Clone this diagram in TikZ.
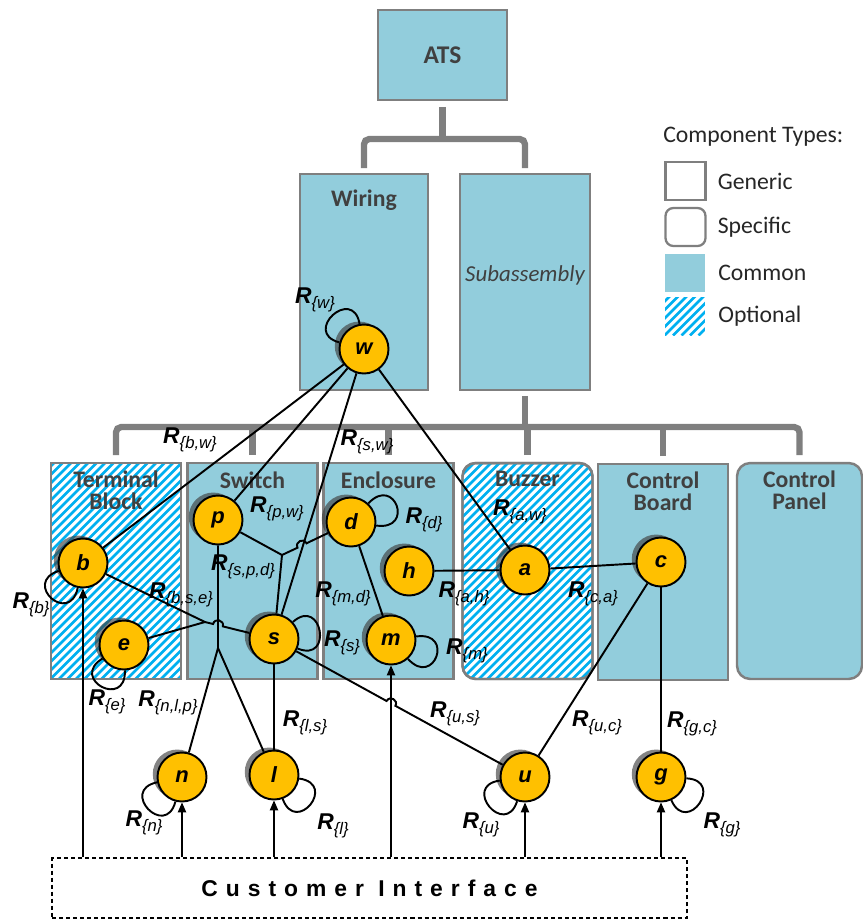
\documentclass[tikz,border=0pt]{standalone}
\usepackage{fontspec}
\setmainfont{Carlito}
\newfontfamily\arialf{Liberation Sans}
\newfontfamily\cifont[LetterSpace=35]{Liberation Sans}
\usetikzlibrary{arrows.meta,positioning,shadows,calc}
\definecolor{commonblue}{RGB}{146,205,220}
\definecolor{stripeblue}{RGB}{0,176,240}
\definecolor{framegray}{RGB}{127,127,127}
\definecolor{nodegold}{RGB}{255,192,0}
\definecolor{labeldark}{RGB}{64,64,64}
\newcommand{\Rsub}[1]{{\bfseries\itshape R}\raisebox{-2.8pt}{\fontsize{9.5}{10}\selectfont\itshape\{#1\}}}
\newcommand{\hatchin}[2]{%
	\begin{scope}
		\clip[rounded corners=#2] (#1.south west) rectangle (#1.north east);
		\foreach \k in {0,...,44}
		\draw[stripe] ($(#1.south west)+(\k*8.5-230,0)$) -- ++(250,250);
	\end{scope}}
\tikzset{
	comp/.style    = {rectangle,draw=framegray,line width=1.4pt,fill=commonblue,
		minimum width=2.6cm,minimum height=4.32cm,inner sep=0pt,outer sep=0pt},
	boxframe/.style= {draw=framegray,line width=1.4pt},
	boxlbl/.style  = {font=\fontsize{13.5}{13}\selectfont\bfseries,text=labeldark,
		align=center,inner sep=0pt},
	vtx/.style     = {circle,draw=black,line width=1.1pt,fill=nodegold,
		minimum size=0.98cm,inner sep=0pt,
		font=\arialf\fontsize{12.5}{14}\selectfont\bfseries\itshape,
		drop shadow={shadow xshift=-2.7pt,shadow yshift=1.7pt,fill=black!75,opacity=0.65}},
	link/.style    = {line width=1.1pt,black},
	rlbl/.style    = {font=\arialf\fontsize{13}{14}\selectfont,inner sep=0pt},
	ciarr/.style   = {line width=0.75pt,-{Triangle[length=5.7pt,width=4.8pt]}},
	cibox/.style   = {rectangle,draw=black,line width=0.75pt,dash pattern=on 2.3pt off 1.7pt,
		minimum width=12.7cm,minimum height=1.2cm,inner sep=0pt,
		font=\cifont\bfseries\fontsize{13}{15}\selectfont},
	busline/.style = {line width=3.6pt,framegray,rounded corners=3pt},
	stripe/.style  = {line width=1.5pt,stripeblue},
	legbox/.style  = {rectangle,draw=framegray,line width=1.3pt,minimum width=0.8cm,
		minimum height=0.76cm,inner sep=0pt,outer sep=0pt},
	legtxt/.style  = {font=\fontsize{13.5}{15}\selectfont,text=black!85,inner sep=0pt,anchor=west},
}
\begin{document}
\begin{tikzpicture}[x=0.02cm,y=0.02cm]
	\useasboundingbox (0,0) rectangle (863,-921);
	
	%% Niveau superieur
	\node[comp,minimum width=2.58cm,minimum height=1.8cm,text=labeldark,
	font=\fontsize{14.5}{15}\selectfont\bfseries] (ats) at (442.5,-55) {ATS};
	\node[comp,minimum width=2.56cm] (wir) at (364,-282) {};
	\node[boxlbl,below=0.3cm of wir.north] (wirl) {Wiring};
	\node[comp] (sub) at (525,-282) {};
	\node[font=\fontsize{13}{15}\selectfont\itshape,text=labeldark] (subl) at (525,-275) {Subassembly};
	
	%% Composants
	\node[comp,fill=white] (tb) at (116,-571) {};
	\hatchin{tb}{0pt}
	\draw[boxframe] (tb.south west) rectangle (tb.north east);
	\node[comp] (sw)  at (252.5,-571) {};
	\node[comp] (enc) at (388.5,-571) {};
	\node[comp,fill=white,rounded corners=7.5pt] (buz) at (527.5,-571) {};
	\hatchin{buz}{7.5pt}
	\draw[boxframe,rounded corners=7.5pt] (buz.south west) rectangle (buz.north east);
	\node[comp] (cb) at (663,-572) {};
	\node[comp,rounded corners=7.5pt,minimum width=2.5cm] (cp) at (799.5,-571) {};
	
	\node[boxlbl,anchor=north,below=0.14cm of tb.north]  (tbl)  {Terminal\\Block};
	\node[boxlbl,anchor=north,below=0.16cm of sw.north]  (swl)  {Switch};
	\node[boxlbl,anchor=north,below=0.16cm of enc.north] (encl) {Enclosure};
	\node[boxlbl,anchor=north,below=0.16cm of buz.north] (buzl) {Buzzer};
	\node[boxlbl,anchor=north,below=0.14cm of cb.north]  (cbl)  {Control\\Board};
	\node[boxlbl,anchor=north,below=0.14cm of cp.north]  (cpl)  {Control\\Panel};
	
	%% Arborescence
	\coordinate (bus1) at (0,-139);
	\coordinate (bus2) at (0,-427);
	\draw[busline] ([yshift=-0.14cm]ats.south) -- (ats.south |- bus1);
	\draw[busline] ([yshift=0.12cm]wir.north) -- (wir.north |- bus1)
	-- (sub.north |- bus1) -- ([yshift=0.12cm]sub.north);
	\draw[busline] ([yshift=-0.12cm]sub.south) -- (sub.south |- bus2);
	\draw[busline] ([yshift=0.16cm]tb.north) -- (tb.north |- bus2)
	-- (cp.north |- bus2) -- ([yshift=0.16cm]cp.north);
	\foreach \bx in {sw,enc,buz,cb} \draw[busline] ([yshift=0.16cm]\bx.north) -- (\bx.north |- bus2);
	
	%% Legende
	\node[legtxt] (legt) at (663,-137) {Component Types:};
	\node[legbox] (lgen) at (685.5,-181) {};
	\node[legbox,rounded corners=4.5pt] (lspec) at (685.5,-227) {};
	\node[legbox,draw=none,fill=commonblue] (lcom) at (685,-273) {};
	\node[legbox,draw=none] (lopt) at (685,-316.5) {};
	\hatchin{lopt}{0pt}
	\node[legtxt,right=0.24cm of lgen]  (lgent)  {Generic};
	\node[legtxt,right=0.24cm of lspec] (lspect) {Specific};
	\node[legtxt,right=0.26cm of lcom]  (lcomt)  {Common};
	\node[legtxt,right=0.26cm of lopt]  (loptt)  {Optional};
	
	%% Sommets
	\node[vtx] (w) at (364,-349) {w};
	\node[vtx] (b) at (83,-563)  {b};
	\node[vtx] (e) at (124,-645) {e};
	\node[vtx] (p) at (218,-520) {p};
	\node[vtx] (s) at (274,-639) {s};
	\node[vtx] (d) at (351,-522) {d};
	\node[vtx] (h) at (409,-571) {h};
	\node[vtx] (m) at (391,-640) {m};
	\node[vtx] (a) at (525,-570) {a};
	\node[vtx] (c) at (661,-562) {c};
	\node[vtx] (n) at (182,-777) {n};
	\node[vtx] (l) at (274,-775) {l};
	\node[vtx] (u) at (525,-777) {u};
	\node[vtx] (g) at (661,-777) {g};
	
	%% Interface client
	\node[cibox] (ci) at (369.5,-888) {Customer Interface};
	\foreach \v in {b,n,l,m,u,g} \draw[ciarr] (ci.north -| \v) -- (\v);
	
	%% Relations
	\coordinate (jspd) at (282,-555);
	\coordinate (jbse) at (205,-622);
	\coordinate (jnlp) at (218,-648);
	\foreach \x/\y in {w/b,w/p,w/s,w/a,d/m,h/a,a/c,u/c,g/c,l/s} \draw[link] (\x) -- (\y);
	\draw[link] (p) -- (jspd) -- (s);
	\draw[link] (d) -- (306.5,-543.3) .. controls (303.7,-537.3) and (294.7,-541.7) .. (297.5,-547.7) -- (jspd);
	\draw[link] (b) -- (jbse);
	\draw[link] (e) -- (jbse);
	\draw[link] (jbse) -- (213.1,-624.0) .. controls (214.7,-617.6) and (224.5,-620.0) .. (222.9,-626.4) -- (s);
	\draw[link] (p) -- (jnlp) -- (n);
	\draw[link] (jnlp) -- (l);
	\draw[link] (s) -- (386.6,-701.0) .. controls (389.8,-695.2) and (398.6,-700.0) .. (395.4,-705.8) -- (u);
	\foreach \v/\o/\i in {w/165/100,b/198/258,e/212/272,s/42/-22,d/47/-8,
		m/8/-48,n/192/255,l/-8/-70,u/188/252,g/-3/-66}
	\draw[link] (\v.\o) .. controls +(\o:0.78cm) and +(\i:0.78cm) .. (\v.\i);
	
	%% Etiquettes
	\node[rlbl] (rw)   at (315,-300) {\Rsub{w}};
	\node[rlbl] (rbw)  at (190,-440) {\Rsub{b,w}};
	\node[rlbl] (rsw)  at (367,-442) {\Rsub{s,w}};
	\node[rlbl] (rpw)  at (277,-509) {\Rsub{p,w}};
	\node[rlbl] (rspd) at (243,-567) {\Rsub{s,p,d}};
	\node[rlbl] (rbse) at (181,-595) {\Rsub{b,s,e}};
	\node[rlbl] (rb)   at (31,-605)  {\Rsub{b}};
	\node[rlbl] (re)   at (107,-702) {\Rsub{e}};
	\node[rlbl] (rnlp) at (168,-703) {\Rsub{n,l,p}};
	\node[rlbl] (rls)  at (305,-723) {\Rsub{l,s}};
	\node[rlbl] (rn)   at (144,-823) {\Rsub{n}};
	\node[rlbl] (rl)   at (333,-826) {\Rsub{l}};
	\node[rlbl] (rus)  at (455,-714) {\Rsub{u,s}};
	\node[rlbl] (ruc)  at (597,-723) {\Rsub{u,c}};
	\node[rlbl] (rgc)  at (692,-724) {\Rsub{g,c}};
	\node[rlbl] (ru)   at (481,-825) {\Rsub{u}};
	\node[rlbl] (rg)   at (722,-825) {\Rsub{g}};
	\node[rlbl] (rmd)  at (343,-594) {\Rsub{m,d}};
	\node[rlbl] (rah)  at (464,-594) {\Rsub{a,h}};
	\node[rlbl] (rca)  at (593,-594) {\Rsub{c,a}};
	\node[rlbl] (raw)  at (520,-512) {\Rsub{a,w}};
	\node[rlbl] (rd)   at (424,-520) {\Rsub{d}};
	\node[rlbl] (rs)   at (342,-643) {\Rsub{s}};
	\node[rlbl] (rm)   at (467,-651) {\Rsub{m}};
\end{tikzpicture}
\end{document}
